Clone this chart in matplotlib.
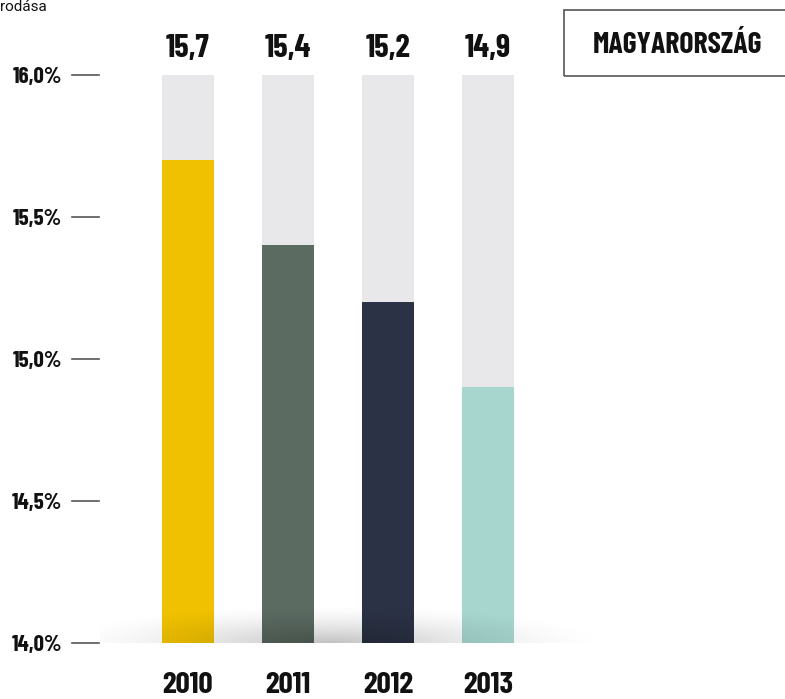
import numpy as np
import matplotlib.pyplot as plt
from matplotlib.patches import Rectangle

# data
years = ["2010", "2011", "2012", "2013"]
values = [15.7, 15.4, 15.2, 14.9]
bar_colors = ["#f0c100", "#5b6b62", "#2c3245", "#a6d6ce"]
yticks = [14.0, 14.5, 15.0, 15.5, 16.0]
ymin, ymax = 14.0, 16.0
country = "MAGYARORSZÁG"
title_tail = "rodása"

COND = ["Barlow Condensed", "DejaVu Sans"]
W, H = 785, 699

fig = plt.figure(figsize=(W / 100, H / 100), dpi=100)
# y=16 at px 75, y=14 at px 643
ax = fig.add_axes([0, (H - 643) / H, 1, 568 / H])
ax.axis("off")

x = np.arange(len(years))
bw = 0.52
ax.bar(x, [ymax - ymin] * len(x), bottom=ymin, width=bw, color="#e8e8ea", zorder=1)
ax.bar(x, np.array(values) - ymin, bottom=ymin, width=bw, color=bar_colors, zorder=2)

# soft floor shadow
ppu = 568 / (ymax - ymin)  # pixels per y unit
sx0, sx1 = (100 - 188) / 100, (620 - 188) / 100
sh = 40 / ppu
gx = np.linspace(sx0, sx1, 400)
gy = np.linspace(0, 1, 60)
GX, GY = np.meshgrid(gx, gy)
cx, rx = (330 - 188) / 100, 2.9
r = np.sqrt(((GX - cx) / rx) ** 2 + GY ** 2)
alpha = 0.24 * np.clip(1 - r, 0, 1) ** 1.6
rgba = np.zeros(GX.shape + (4,))
rgba[..., 3] = alpha
ax.imshow(rgba, extent=(sx0, sx1, ymin, ymin + sh), origin="lower",
          aspect="auto", zorder=3, interpolation="bilinear")
ax.set_xlim((0 - 188) / 100, (W - 188) / 100)
ax.set_ylim(ymin, ymax)

# y ticks
for t in yticks:
    ax.plot([-1.16, -0.89], [t, t], color="#555555", lw=1.2, clip_on=False, zorder=4)
    ax.text(-1.26, t - 8 / ppu, f"{t:.1f}%".replace(".", ","), ha="right", va="baseline",
            family=COND, weight="bold", fontsize=16.5, color="#111111", clip_on=False)

# value labels and years
for xi, v, yr in zip(x, values, years):
    ax.text(xi, ymax + 18 / ppu, f"{v:.1f}".replace(".", ","),
            ha="center", va="baseline", family=COND, weight="bold", fontsize=23.5,
            color="#111111", clip_on=False)
    ax.text(xi, ymin - 50 / ppu, yr, ha="center", va="baseline",
            family=COND, weight="bold", fontsize=22.5, color="#111111", clip_on=False)

# country box
fig.add_artist(Rectangle((564 / W, 1 - 76 / H), (W + 10 - 564) / W, 66 / H,
                         transform=fig.transFigure, fill=False,
                         edgecolor="#555555", lw=1.2))
fig.text(677 / W, 1 - 53 / H, country, ha="center", va="baseline",
         family=COND, weight="bold", fontsize=21.5, color="#111111")

fig.text(0, 1 - 11 / H, title_tail, ha="left", va="baseline",
         family=["Roboto", "DejaVu Sans"], fontsize=11, color="#111111")

fig.savefig("out.png", dpi=100)
